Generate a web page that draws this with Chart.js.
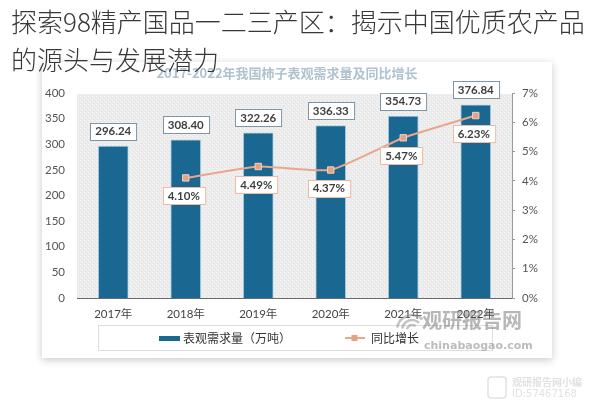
<!DOCTYPE html>
<html>
<head>
<meta charset="utf-8">
<script src="https://cdn.jsdelivr.net/npm/chart.js@4.4.1/dist/chart.umd.min.js"></script>
<style>
  html, body { margin: 0; padding: 0; background: #ffffff; }
  #wrap { position: relative; width: 600px; height: 407px; overflow: hidden; }
  #c { position: absolute; left: 0; top: 0; }
  #title {
    position: absolute; left: 11px; top: 2px; width: 590px;
    font-family: 'Noto Sans CJK SC', sans-serif; font-size: 26px; line-height: 38px;
    color: #383838; font-weight: 300; z-index: 2; white-space: nowrap;
  }
</style>
</head>
<body>
<div id="wrap">
  <canvas id="c" width="600" height="407"></canvas>
  <div id="title">探索98精产国品一二三产区：揭示中国优质农产品<br>的源头与发展潜力</div>
</div>
<script>
const chartTitle = '2017-2022年我国柿子表观需求量及同比增长';
const categories = ['2017年', '2018年', '2019年', '2020年', '2021年', '2022年'];
const demandLabel = '表观需求量（万吨）';
const demand = [296.24, 308.40, 322.26, 336.33, 354.73, 376.84];
const growthLabel = '同比增长';
const growth = [null, 4.10, 4.49, 4.37, 5.47, 6.23];
const leftTicks = [0, 50, 100, 150, 200, 250, 300, 350, 400];
const rightTicks = [0, 1, 2, 3, 4, 5, 6, 7];

const FONT = "Lato, 'Noto Sans CJK SC', sans-serif";
const BAR_COLOR = '#1a6892';
const LINE_COLOR = '#e9a68d';

function makePattern(ctx) {
  const pc = document.createElement('canvas');
  pc.width = 4; pc.height = 4;
  const p = pc.getContext('2d');
  p.fillStyle = '#ececec'; p.fillRect(0, 0, 4, 4);
  p.fillStyle = '#f7f7f7'; p.fillRect(0, 0, 1, 1); p.fillRect(2, 2, 1, 1);
  p.fillStyle = '#e4e4e4'; p.fillRect(1, 3, 1, 1); p.fillRect(3, 1, 1, 1);
  return ctx.createPattern(pc, 'repeat');
}

function boxLabel(ctx, text, cx, cy, border, font) {
  ctx.save();
  ctx.font = font;
  const w = ctx.measureText(text).width + 10;
  const h = 17;
  const x = Math.round(cx - w / 2) + 0.5, y = Math.round(cy - h / 2) + 0.5;
  ctx.fillStyle = '#ffffff';
  ctx.fillRect(x, y, w, h);
  ctx.strokeStyle = border; ctx.lineWidth = 1;
  ctx.strokeRect(x, y, w, h);
  ctx.fillStyle = '#3f3f3f';
  ctx.textAlign = 'center'; ctx.textBaseline = 'middle';
  ctx.fillText(text, cx, cy + 0.5);
  ctx.restore();
}

const decor = {
  id: 'decor',
  beforeDraw(chart) {
    const ctx = chart.ctx, a = chart.chartArea;
    ctx.save();
    ctx.fillStyle = '#ffffff';
    ctx.fillRect(0, 0, chart.width, chart.height);
    // card
    ctx.shadowColor = 'rgba(0,0,0,0.22)';
    ctx.shadowBlur = 8; ctx.shadowOffsetY = 2;
    ctx.fillStyle = '#ffffff';
    ctx.fillRect(42, 62, 510, 296);
    ctx.shadowColor = 'transparent';
    // plot background
    ctx.fillStyle = makePattern(ctx);
    ctx.fillRect(a.left, a.top + 1, a.right - a.left, a.bottom - a.top - 1);
    // subtitle
    ctx.font = "bold 13px 'Noto Sans CJK SC', sans-serif";
    ctx.fillStyle = '#b0c2cf';
    ctx.textAlign = 'center'; ctx.textBaseline = 'middle';
    ctx.fillText(chartTitle, 287, 73);
    ctx.restore();
  },
  afterDatasetsDraw(chart) {
    const ctx = chart.ctx;
    const barMeta = chart.getDatasetMeta(0);
    barMeta.data.forEach((el, i) => {
      boxLabel(ctx, demand[i].toFixed(2), el.x, el.y - 15, '#7d95a4', "bold 11.5px " + FONT);
    });
    const lineMeta = chart.getDatasetMeta(1);
    lineMeta.data.forEach((el, i) => {
      if (growth[i] == null) return;
      boxLabel(ctx, growth[i].toFixed(2) + '%', el.x - 2, el.y + 18, '#efb9a3', "bold 11.5px " + FONT);
    });
  },
  afterDraw(chart) {
    const ctx = chart.ctx;
    ctx.save();
    // legend box
    ctx.strokeStyle = '#dddddd'; ctx.lineWidth = 1;
    ctx.strokeRect(98.5, 325.5, 394, 25);
    ctx.fillStyle = BAR_COLOR;
    ctx.fillRect(159, 336, 21, 5);
    ctx.font = "12px 'Noto Sans CJK SC', sans-serif";
    ctx.fillStyle = '#333333';
    ctx.textBaseline = 'middle'; ctx.textAlign = 'left';
    ctx.fillText(chart.data.datasets[0].label, 183, 338);
    ctx.strokeStyle = LINE_COLOR; ctx.lineWidth = 2;
    ctx.beginPath(); ctx.moveTo(345, 338); ctx.lineTo(365, 338); ctx.stroke();
    ctx.fillStyle = '#e2a384';
    ctx.fillRect(351.5, 335, 6, 6);
    ctx.fillStyle = '#333333';
    ctx.fillText(chart.data.datasets[1].label, 371, 338);

    // watermark
    ctx.globalAlpha = 0.5;
    ctx.strokeStyle = '#8a8a8a'; ctx.lineWidth = 2.5;
    for (let r = 5; r <= 15; r += 5) {
      ctx.beginPath(); ctx.arc(412, 330, r, Math.PI * 1.05, Math.PI * 1.75); ctx.stroke();
    }
    ctx.fillStyle = '#6f6f6f';
    ctx.font = "bold 20px 'Noto Sans CJK SC', sans-serif";
    ctx.textBaseline = 'middle'; ctx.textAlign = 'left';
    ctx.fillText('观研报告网', 422, 320);
    ctx.font = "bold 11px 'DejaVu Sans', sans-serif";
    ctx.fillStyle = '#7a7a7a';
    ctx.fillText('chinabaogao.com', 424, 346);
    ctx.globalAlpha = 0.4;
    ctx.strokeStyle = '#b5b5b5'; ctx.lineWidth = 1.5;
    ctx.beginPath();
    ctx.roundRect ? ctx.roundRect(488, 377, 18, 21, 3) : ctx.rect(488, 377, 18, 21);
    ctx.stroke();
    ctx.fillStyle = '#b5b5b5';
    ctx.font = "bold 10px 'Noto Sans CJK SC', sans-serif";
    ctx.fillText('观研报告网小编', 512, 382);
    ctx.font = "10px 'DejaVu Sans', sans-serif";
    ctx.fillText('ID:57467168', 512, 394);
    ctx.restore();
  }
};

new Chart(document.getElementById('c'), {
  type: 'bar',
  data: {
    labels: categories,
    datasets: [
      {
        type: 'bar', label: demandLabel, data: demand, yAxisID: 'y',
        backgroundColor: BAR_COLOR, borderColor: '#a9cde0', borderWidth: 1,
        barThickness: 30, order: 1
      },
      {
        type: 'line', label: growthLabel, data: growth, yAxisID: 'y1',
        borderColor: LINE_COLOR, borderWidth: 2, tension: 0.15,
        pointStyle: 'rect', pointRadius: 4.5, pointBackgroundColor: '#e2a384',
        pointBorderColor: '#f3d3c3', pointBorderWidth: 1, order: 0, spanGaps: true
      }
    ]
  },
  options: {
    responsive: false, animation: false, devicePixelRatio: 1,
    layout: { padding: { left: 38, right: 48, top: 93, bottom: 87 } },
    plugins: { legend: { display: false }, title: { display: false }, tooltip: { enabled: false } },
    scales: {
      x: {
        offset: true,
        grid: { display: false, drawTicks: false },
        border: { display: true, color: '#6b6b6b', width: 1 },
        ticks: { color: '#444444', font: { family: FONT, size: 11.5 }, padding: 9, maxRotation: 0 },
        afterFit(s) { s.height = 22; }
      },
      y: {
        position: 'left', min: 0, max: 400,
        afterBuildTicks(s) { s.ticks = leftTicks.map(v => ({ value: v })); },
        grid: { display: false, drawTicks: false },
        border: { display: false },
        ticks: { color: '#555555', font: { family: FONT, size: 11.5 }, padding: 12 },
        afterFit(s) { s.width = 39; }
      },
      y1: {
        position: 'right', min: 0, max: 7,
        afterBuildTicks(s) { s.ticks = rightTicks.map(v => ({ value: v })); },
        grid: { drawOnChartArea: false, drawTicks: true, tickLength: 3, color: '#999999' },
        border: { display: true, color: '#9a9a9a', width: 1 },
        ticks: { color: '#555555', font: { family: FONT, size: 11.5 }, padding: 7,
                 callback: v => v + '%' },
        afterFit(s) { s.width = 40; }
      }
    }
  },
  plugins: [decor]
});
</script>
</body>
</html>
